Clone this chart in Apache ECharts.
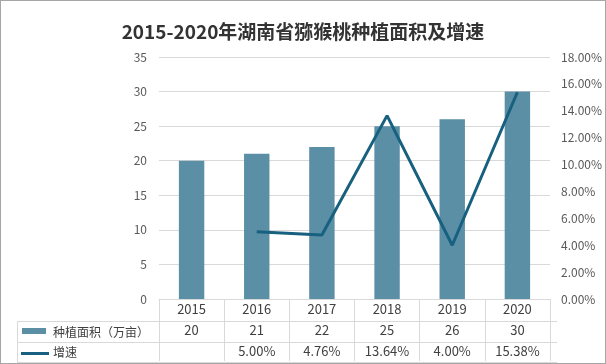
<!DOCTYPE html>
<html>
<head>
<meta charset="utf-8">
<script src="https://cdn.jsdelivr.net/npm/echarts@6/dist/echarts.min.js"></script>
<style>
html,body{margin:0;padding:0;background:#fff;}
#c{width:604px;height:362px;border:1px solid #a6a6a6;}
</style>
</head>
<body>
<div id="c"></div>
<script>
var titleText = '2015-2020年湖南省猕猴桃种植面积及增速';
var categories = ['2015', '2016', '2017', '2018', '2019', '2020'];
var areaName = '种植面积（万亩）';
var areaValues = [20, 21, 22, 25, 26, 30];
var growthName = '增速';
var growthValues = [null, 5.00, 4.76, 13.64, 4.00, 15.38];
var leftTicks = {min: 0, max: 35, interval: 5};
var rightTicks = {min: 0, max: 18, interval: 2};

var FONT = '"Noto Sans CJK SC", "Noto Sans", sans-serif';
var gridColor = '#d9d9d9';
var barColor = '#5b8fa6';
var lineColor = '#17607f';

var chart = echarts.init(document.getElementById('c'), null, {renderer: 'canvas'});

var option = {
  animation: false,
  textStyle: {fontFamily: FONT},
  title: {
    text: titleText,
    left: 'center',
    top: 16,
    textStyle: {fontSize: 19, fontWeight: 'bold', color: '#333', fontFamily: FONT}
  },
  grid: {left: 158, right: 49, top: 56, bottom: 64, containLabel: false},
  xAxis: {
    type: 'category',
    data: categories,
    axisLine: {show: true, lineStyle: {color: gridColor}},
    axisTick: {show: true, length: 62, interval: 0, alignWithLabel: false, lineStyle: {color: gridColor}},
    axisLabel: {
      interval: 0,
      margin: 0,
      verticalAlign: 'top',
      lineHeight: 21,
      color: '#404040',
      fontSize: 13,
      fontFamily: FONT,
      formatter: function (v, i) {
        var g = growthValues[i];
        var gs = (g === null || g === undefined) ? ' ' : g.toFixed(2) + '%';
        return v + '\n' + areaValues[i] + '\n' + gs;
      }
    }
  },
  yAxis: [
    {
      type: 'value',
      min: leftTicks.min, max: leftTicks.max, interval: leftTicks.interval,
      axisLine: {show: false}, axisTick: {show: false},
      splitLine: {lineStyle: {color: gridColor}},
      axisLabel: {color: '#595959', fontSize: 12, margin: 12, fontFamily: FONT}
    },
    {
      type: 'value',
      min: rightTicks.min, max: rightTicks.max, interval: rightTicks.interval,
      axisLine: {show: false}, axisTick: {show: false},
      splitLine: {show: false},
      axisLabel: {color: '#595959', fontSize: 12, margin: 11, fontFamily: FONT,
        formatter: function (v) { return v.toFixed(2) + '%'; }}
    }
  ],
  series: [
    {
      name: areaName,
      type: 'bar',
      data: areaValues,
      barWidth: '39%',
      itemStyle: {color: barColor}
    },
    {
      name: growthName,
      type: 'line',
      yAxisIndex: 1,
      data: growthValues,
      showSymbol: false,
      symbol: 'none',
      connectNulls: false,
      lineStyle: {color: lineColor, width: 3},
      itemStyle: {color: lineColor}
    }
  ],
  graphic: [
    {type: 'line', shape: {x1: 16, y1: 320.5, x2: 556, y2: 320.5}, style: {stroke: gridColor, lineWidth: 1}, silent: true},
    {type: 'line', shape: {x1: 16, y1: 341.5, x2: 556, y2: 341.5}, style: {stroke: gridColor, lineWidth: 1}, silent: true},
    {type: 'line', shape: {x1: 16, y1: 361.5, x2: 556, y2: 361.5}, style: {stroke: gridColor, lineWidth: 1}, silent: true},
    {type: 'line', shape: {x1: 16.5, y1: 320, x2: 16.5, y2: 362}, style: {stroke: gridColor, lineWidth: 1}, silent: true},
    {type: 'rect', shape: {x: 21, y: 327, width: 24, height: 6}, style: {fill: barColor}, silent: true},
    {type: 'text', x: 52, y: 331, style: {text: areaName, fill: '#404040', fontSize: 12, fontFamily: FONT, verticalAlign: 'middle', align: 'left'}, silent: true},
    {type: 'line', shape: {x1: 20, y1: 352.5, x2: 48, y2: 352.5}, style: {stroke: lineColor, lineWidth: 3}, silent: true},
    {type: 'text', x: 52, y: 351, style: {text: growthName, fill: '#404040', fontSize: 12, fontFamily: FONT, verticalAlign: 'middle', align: 'left'}, silent: true}
  ]
};
chart.setOption(option);
</script>
</body>
</html>
